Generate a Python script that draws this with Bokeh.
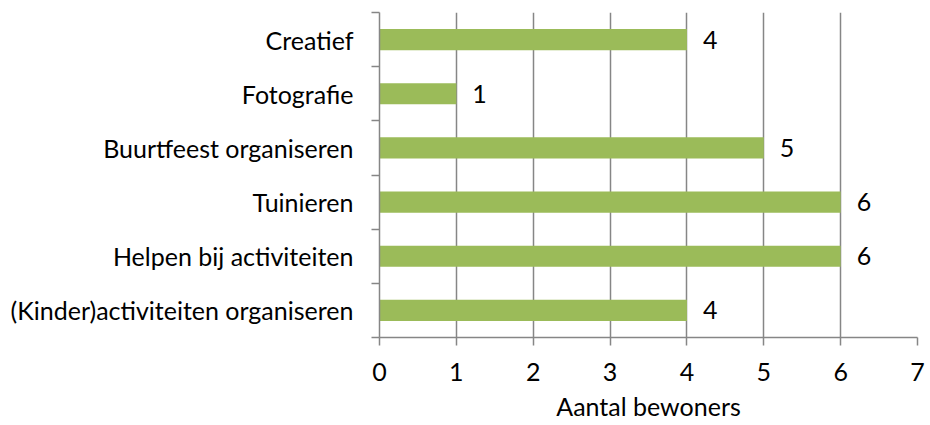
from bokeh.plotting import figure
from bokeh.models import FixedTicker, ColumnDataSource, Range1d
from bokeh.core.properties import value
from bokeh.embed import file_html
from bokeh.resources import INLINE

categories = ["(Kinder)activiteiten organiseren", "Helpen bij activiteiten", "Tuinieren",
              "Buurtfeest organiseren", "Fotografie", "Creatief"]
counts = [4, 6, 6, 5, 1, 4]
x_ticks = [0, 1, 2, 3, 4, 5, 6, 7]
x_label = "Aantal bewoners"

FONT = "Lato"
FS = "25px"
GRAY = "#868686"
GREEN = "#9BBB59"
TXT = "black"

pos = [i + 0.5 for i in range(len(categories))]
src = ColumnDataSource(dict(y=pos, v=counts, lab=[str(c) for c in counts], cat=categories))

p = figure(width=928, height=425, output_backend="svg", toolbar_location=None,
           x_range=Range1d(0, 7), y_range=Range1d(0, len(categories)),
           min_border_left=379, min_border_right=11, min_border_top=12, min_border_bottom=88)
p.outline_line_color = None
p.background_fill_color = "white"

p.hbar(y="y", right="v", left=0, height=0.39, source=src, fill_color=GREEN, line_color=None)
p.text(x="v", y="y", text="lab", source=src, x_offset=16, text_baseline="middle",
       text_align="left", text_font=value(FONT), text_font_size=FS, text_color=TXT)

# x axis
xa = p.xaxis[0]
xa.ticker = FixedTicker(ticks=x_ticks)
xa.axis_label = x_label
xa.axis_label_text_font = FONT
xa.axis_label_text_font_style = "normal"
xa.axis_label_text_font_size = FS
xa.axis_label_text_color = TXT
xa.axis_label_text_line_height = 0.9
xa.axis_label_standoff = 7
xa.major_label_text_font = FONT
xa.major_label_text_font_size = FS
xa.major_label_text_color = TXT
xa.major_label_text_line_height = 0.9
xa.major_label_standoff = 17
xa.axis_line_color = GRAY
xa.axis_line_width = 1.5
xa.major_tick_line_color = GRAY
xa.major_tick_line_width = 1.5
xa.major_tick_in = 0
xa.major_tick_out = 8
xa.minor_tick_line_color = None

# y axis
ya = p.yaxis[0]
ya.ticker = FixedTicker(ticks=pos, minor_ticks=list(range(len(categories) + 1)))
ya.major_label_overrides = {pp: c for pp, c in zip(pos, categories)}
ya.major_label_text_font = FONT
ya.major_label_text_font_size = FS
ya.major_label_text_color = TXT
ya.major_label_standoff = 18
ya.axis_line_color = GRAY
ya.axis_line_width = 1.5
ya.major_tick_line_color = None
ya.major_tick_in = 0
ya.major_tick_out = 0
ya.minor_tick_line_color = GRAY
ya.minor_tick_line_width = 1.5
ya.minor_tick_in = 0
ya.minor_tick_out = 8

p.xgrid.ticker = FixedTicker(ticks=x_ticks)
p.xgrid.grid_line_color = GRAY
p.xgrid.grid_line_width = 1.5
p.ygrid.grid_line_color = None

open("out.html", "w").write(file_html(p, INLINE))
